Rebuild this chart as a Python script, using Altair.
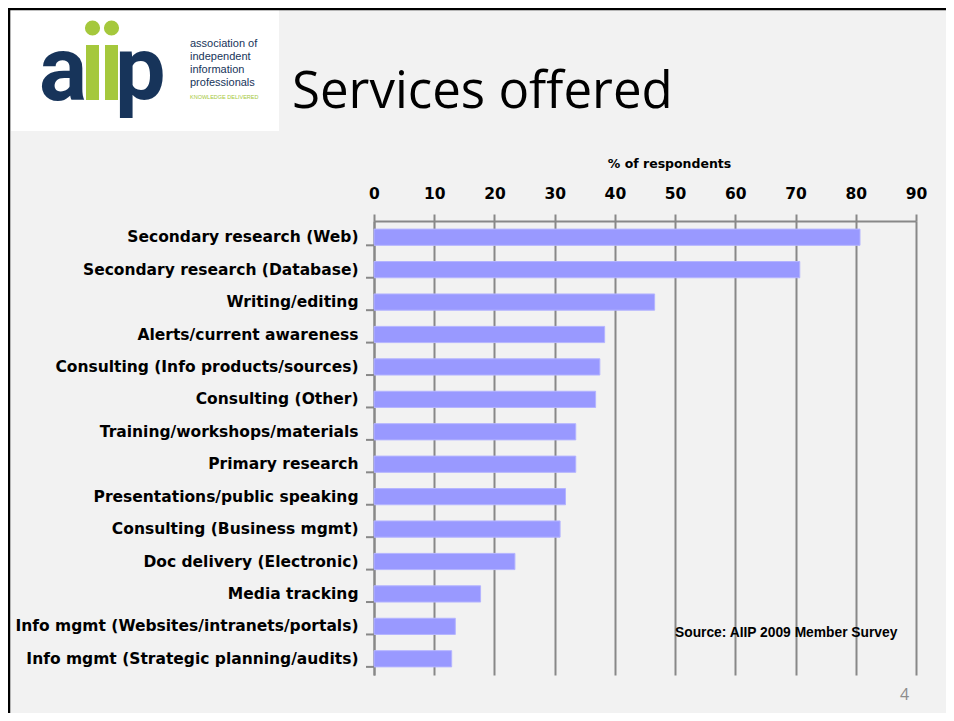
import altair as alt
import pandas as pd

# ---- data ----
categories = [
    "Secondary research (Web)",
    "Secondary research (Database)",
    "Writing/editing",
    "Alerts/current awareness",
    "Consulting (Info products/sources)",
    "Consulting (Other)",
    "Training/workshops/materials",
    "Primary research",
    "Presentations/public speaking",
    "Consulting (Business mgmt)",
    "Doc delivery (Electronic)",
    "Media tracking",
    "Info mgmt (Websites/intranets/portals)",
    "Info mgmt (Strategic planning/audits)",
]
values = [80.7, 70.7, 46.6, 38.3, 37.5, 36.8, 33.5, 33.5, 31.8, 30.9, 23.4, 17.7, 13.5, 12.9]
x_ticks = [0, 10, 20, 30, 40, 50, 60, 70, 80, 90]
axis_title = "% of respondents"
slide_title = "Services offered"
source_text = "Source: AIIP 2009 Member Survey"
page_number = "4"
logo_lines = ["association of", "independent", "information", "professionals"]
logo_tag = "KNOWLEDGE DELIVERED"

df = pd.DataFrame({"service": categories, "pct": values})

# plot origin on the page
OX, OY = 374, 221
W, H = 542, 454
TOTAL_W, TOTAL_H = 938, 705


def px(x):
    return x - OX


def py(y):
    return y - OY


GRAY = "#888888"
NAVY = "#17345a"
GREEN = "#a5c83c"
LABEL_FONT = "DejaVu Sans"

y_axis = alt.Axis(
    domainColor=GRAY, domainWidth=2,
    tickOpacity=0, tickSize=8, labelPadding=8,
    labelFont=LABEL_FONT, labelFontWeight="bold", labelFontSize=15.5,
    labelColor="black", labelLimit=500,
)
y_scale = alt.Scale(paddingInner=0.5, paddingOuter=0.25)

bars = alt.Chart(df).mark_bar(color="#9999ff", stroke="#b4b4ff", strokeWidth=1).encode(
    y=alt.Y("service:N", sort=categories, title=None, scale=y_scale, axis=y_axis),
    x=alt.X(
        "pct:Q",
        scale=alt.Scale(domain=[0, 90], nice=False),
        axis=alt.Axis(
            orient="top", values=x_ticks, title=axis_title,
            domainColor=GRAY, domainWidth=2,
            tickColor=GRAY, tickWidth=2, tickSize=7,
            gridColor=GRAY, gridWidth=2, grid=True,
            labelFont=LABEL_FONT, labelFontSize=15.5, labelFontWeight="bold",
            labelColor="black", labelBaseline="alphabetic", labelPadding=16,
            labelFlush=False,
            titleFont=LABEL_FONT, titleFontSize=12.5, titleFontWeight="bold",
            titleColor="black", titleX=295, titleY=-54,
            titleBaseline="alphabetic", titleAlign="center",
        ),
    ),
)

ytick_rules = alt.Chart(df).mark_rule(color=GRAY, strokeWidth=2).encode(
    y=alt.Y("service:N", sort=categories, title=None, scale=y_scale, axis=y_axis, bandPosition=1),
    x=alt.value(-8),
    x2=alt.value(0),
)

one = pd.DataFrame({"k": [0]})


def text_layer(txt, x, y, size, font, color="black", weight="normal", align="left"):
    return alt.Chart(one).mark_text(
        text=txt, align=align, baseline="alphabetic", font=font,
        fontSize=size, fontWeight=weight, color=color,
    ).encode(x=alt.value(px(x)), y=alt.value(py(y)))


# slide border (top & left)
border_top = alt.Chart(one).mark_rule(color="black", strokeWidth=2.5).encode(
    x=alt.value(px(8)), x2=alt.value(px(946)), y=alt.value(py(9))
)
border_left = alt.Chart(one).mark_rule(color="black", strokeWidth=2.5).encode(
    x=alt.value(px(9)), y=alt.value(py(8)), y2=alt.value(py(713))
)

# logo box
logo_box = alt.Chart(one).mark_rect(color="white").encode(
    x=alt.value(px(11)), x2=alt.value(px(279)), y=alt.value(py(10)), y2=alt.value(py(131))
)
logo_a = text_layer("a", 39, 100, 90, "Roboto", NAVY, "bold")
logo_p = text_layer("p", 115, 100, 90, "Roboto", NAVY, "bold")
stem1 = alt.Chart(one).mark_rect(color=GREEN).encode(
    x=alt.value(px(86)), x2=alt.value(px(99)), y=alt.value(py(45)), y2=alt.value(py(100))
)
stem2 = alt.Chart(one).mark_rect(color=GREEN).encode(
    x=alt.value(px(105)), x2=alt.value(px(118)), y=alt.value(py(45)), y2=alt.value(py(100))
)
dot1 = alt.Chart(one).mark_circle(color=GREEN, opacity=1, size=230).encode(
    x=alt.value(px(92.5)), y=alt.value(py(28))
)
dot2 = alt.Chart(one).mark_circle(color=GREEN, opacity=1, size=230).encode(
    x=alt.value(px(111.5)), y=alt.value(py(28))
)
logo_texts = [
    text_layer(t, 190, 47 + 13 * i, 11, "Liberation Sans", NAVY)
    for i, t in enumerate(logo_lines)
]
logo_tag_t = text_layer(logo_tag, 190, 99, 5.5, "Liberation Sans", GREEN)

title_t = text_layer(slide_title, 292, 108, 51, "Open Sans", "black")
source_t = text_layer(source_text, 675, 637, 13.8, "Liberation Sans", "black", "bold")
page_t = text_layer(page_number, 900, 700, 16, "Open Sans", "#8c8c8c")

chart = alt.layer(
    bars, ytick_rules,
    logo_box, logo_a, stem1, stem2, dot1, dot2, logo_p, *logo_texts, logo_tag_t,
    title_t, source_t, page_t, border_top, border_left,
).properties(
    width=W, height=H,
    autosize=alt.AutoSizeParams(type="none"),
    padding={"left": OX - 8, "top": OY - 8, "right": TOTAL_W - (OX - 8) - W,
             "bottom": TOTAL_H - (OY - 8) - H},
    background="#f2f2f2",
).configure_view(stroke=None)

chart.save("out.html", embed_options={"renderer": "svg", "actions": False})
